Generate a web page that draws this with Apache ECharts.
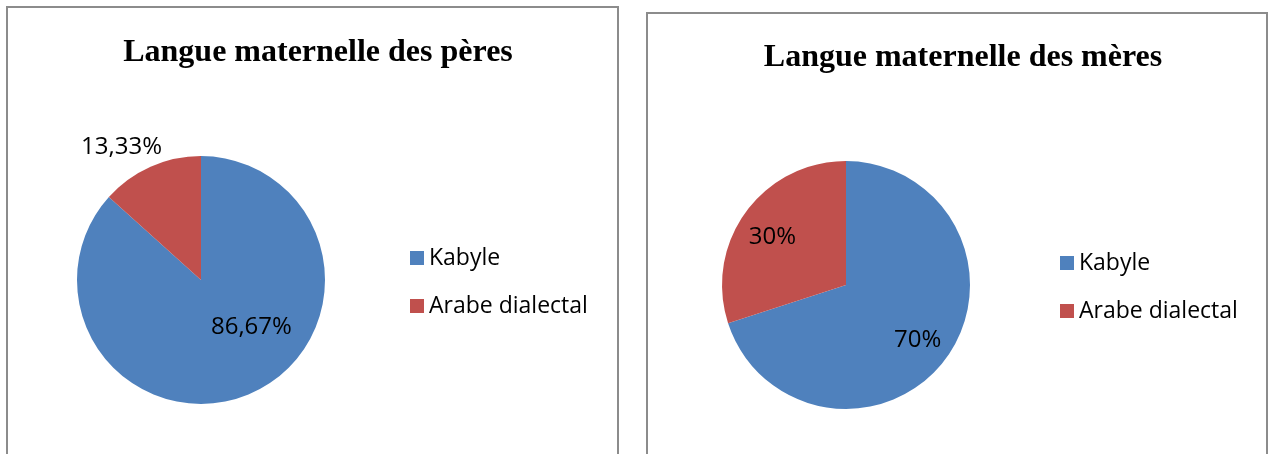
<!DOCTYPE html>
<html>
<head>
<meta charset="utf-8">
<script src="https://cdn.jsdelivr.net/npm/echarts@6/dist/echarts.min.js"></script>
<style>
  html, body { margin: 0; padding: 0; background: #fff; }
  #main { width: 1269px; height: 454px; }
</style>
</head>
<body>
<div id="main"></div>
<script>
// données
var categories = ['Kabyle', 'Arabe dialectal'];
var peres = [86.67, 13.33];
var meres = [70, 30];
var titres = ['Langue maternelle des pères', 'Langue maternelle des mères'];
var colors = ['#4F81BD', '#C0504D'];

function fmt(v) {
  return (Math.round(v * 100) / 100).toString().replace('.', ',') + '%';
}

function toData(values) {
  return categories.map(function (c, i) {
    return { name: c, value: values[i] };
  });
}

// décalages des étiquettes (comme Excel)
var shiftPeres = [[24, -12], [-53, -73]];
var shiftMeres = [[19, 17], [-21, -10]];

var chart = echarts.init(document.getElementById('main'));

var labelStyle = {
  show: true,
  position: 'inside',
  color: '#000',
  fontFamily: 'Open Sans',
  fontSize: 24,
  formatter: function (p) { return fmt(p.value); }
};

var legendText = { fontFamily: 'Open Sans', fontSize: 23, color: '#000', lineHeight: 26 };
var titleText = { fontFamily: 'Liberation Serif', fontWeight: 'bold', fontSize: 32, color: '#000' };

chart.setOption({
  backgroundColor: '#fff',
  animation: false,
  color: colors,
  title: [{
    text: titres[0], left: 313, top: 32, textAlign: 'center', textStyle: titleText
  }, {
    text: titres[1], left: 958, top: 37, textAlign: 'center', textStyle: titleText
  }],
  legend: [{
    orient: 'vertical',
    left: 405, top: 240,
    icon: 'rect', itemWidth: 14, itemHeight: 14, itemGap: 22, padding: 5,
    data: categories,
    textStyle: legendText
  }, {
    orient: 'vertical',
    left: 1055, top: 245,
    icon: 'rect', itemWidth: 14, itemHeight: 14, itemGap: 22, padding: 5,
    data: categories,
    textStyle: legendText
  }],
  graphic: [{
    type: 'rect', shape: { x: 7, y: 7, width: 611, height: 460 },
    style: { fill: 'none', stroke: '#8c8c8c', lineWidth: 2 }
  }, {
    type: 'rect', shape: { x: 647, y: 13, width: 620, height: 460 },
    style: { fill: 'none', stroke: '#8c8c8c', lineWidth: 2 }
  }],
  series: [{
    type: 'pie',
    center: [201, 280],
    radius: [0, 124],
    startAngle: 90,
    clockwise: true,
    label: labelStyle,
    labelLine: { show: false },
    emphasis: { disabled: true },
    labelLayout: function (p) {
      return { dx: shiftPeres[p.dataIndex][0], dy: shiftPeres[p.dataIndex][1] };
    },
    data: toData(peres)
  }, {
    type: 'pie',
    center: [846, 285],
    radius: [0, 124],
    startAngle: 90,
    clockwise: true,
    label: labelStyle,
    labelLine: { show: false },
    emphasis: { disabled: true },
    labelLayout: function (p) {
      return { dx: shiftMeres[p.dataIndex][0], dy: shiftMeres[p.dataIndex][1] };
    },
    data: toData(meres)
  }]
});
</script>
</body>
</html>
